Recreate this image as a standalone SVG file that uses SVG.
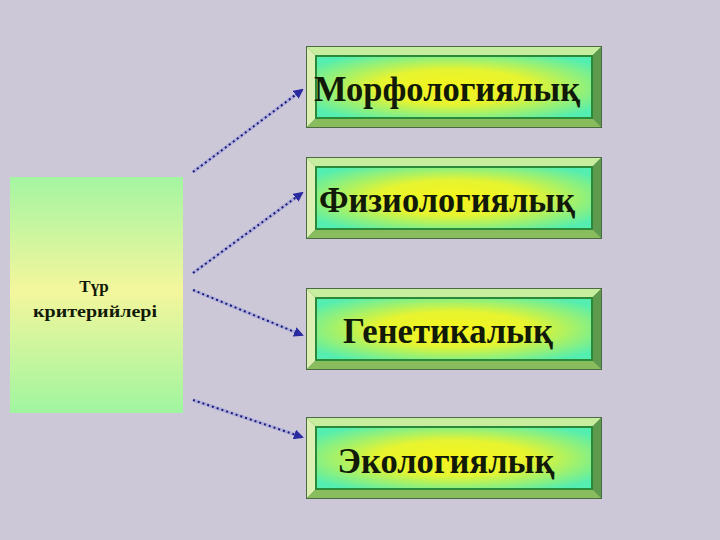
<svg xmlns="http://www.w3.org/2000/svg" xmlns:xlink="http://www.w3.org/1999/xlink" width="720" height="540" viewBox="0 0 720 540">
<style>
.bg{fill:#ccc8d8}
.lbl{font-family:"Liberation Serif","Times New Roman",serif;font-weight:bold;fill:#111a08;text-anchor:middle}
.big{font-size:36px}
.small{font-size:17px}
.halo{stroke:#a4a4dc;stroke-width:3.5;fill:none;opacity:.7}
.dots{stroke:#1a1a78;stroke-width:2;stroke-dasharray:2 3;fill:none}
</style>
<defs>
<linearGradient id="gLeft" x1="0" y1="0" x2="0" y2="1">
<stop offset="0" stop-color="#a4f5a2"/>
<stop offset="0.48" stop-color="#f4f69c"/>
<stop offset="1" stop-color="#a0f5a0"/>
</linearGradient>
<radialGradient id="gFace" cx="0.5" cy="0.5" r="0.62">
<stop offset="0" stop-color="#f6f41c"/>
<stop offset="0.45" stop-color="#e6f430"/>
<stop offset="1" stop-color="#54eeb0"/>
</radialGradient>
<marker id="arr" viewBox="0 0 10 10" refX="8" refY="5" markerWidth="5" markerHeight="5" orient="auto" markerUnits="strokeWidth">
<path d="M0,0 L10,5 L0,10 z" fill="#2a2aa0"/>
</marker>
<g id="bevel">
<rect x="0" y="0" width="296" height="82" fill="#6a8a58"/>
<polygon points="0,0 296,0 287,9 9,9" fill="#c6ee9e"/>
<polygon points="0,0 9,9 9,73 0,82" fill="#dcf0b4"/>
<polygon points="296,0 296,82 287,73 287,9" fill="#5e9a4e"/>
<polygon points="0,82 296,82 287,73 9,73" fill="#88bc5c"/>
<rect x="0.5" y="0.5" width="295" height="81" fill="none" stroke="#4c6a44" stroke-width="1"/>
<rect x="10" y="10" width="276" height="62" fill="url(#gFace)" stroke="#2a8a3a" stroke-width="2"/>
</g>
</defs>
<rect class="bg" x="0" y="0" width="720" height="540"/>
<g id="criteria">
<rect x="10" y="177" width="173" height="236" fill="url(#gLeft)"/>
<text class="lbl small" x="94" y="292">Түр</text>
<text class="lbl small" x="95" y="317" textLength="124" lengthAdjust="spacingAndGlyphs">критерийлері</text>
</g>
<g id="connectors">
<path class="halo" d="M193,172 L302,90"/>
<path class="dots" d="M193,172 L302,90" marker-end="url(#arr)"/>
<path class="halo" d="M193,273 L302,193"/>
<path class="dots" d="M193,273 L302,193" marker-end="url(#arr)"/>
<path class="halo" d="M193,290 L302,335"/>
<path class="dots" d="M193,290 L302,335" marker-end="url(#arr)"/>
<path class="halo" d="M193,400 L302,437"/>
<path class="dots" d="M193,400 L302,437" marker-end="url(#arr)"/>
</g>
<g id="morph" transform="translate(306,46)">
<use xlink:href="#bevel"/>
<text class="lbl big" x="141" y="55" textLength="266" lengthAdjust="spacingAndGlyphs">Морфологиялық</text>
</g>
<g id="phys" transform="translate(306,157)">
<use xlink:href="#bevel"/>
<text class="lbl big" x="141" y="55" textLength="256" lengthAdjust="spacingAndGlyphs">Физиологиялық</text>
</g>
<g id="gen" transform="translate(306,288)">
<use xlink:href="#bevel"/>
<text class="lbl big" x="142" y="55" textLength="210" lengthAdjust="spacingAndGlyphs">Генетикалық</text>
</g>
<g id="eco" transform="translate(306,417)">
<use xlink:href="#bevel"/>
<text class="lbl big" x="140" y="56" textLength="217" lengthAdjust="spacingAndGlyphs">Экологиялық</text>
</g>
</svg>
